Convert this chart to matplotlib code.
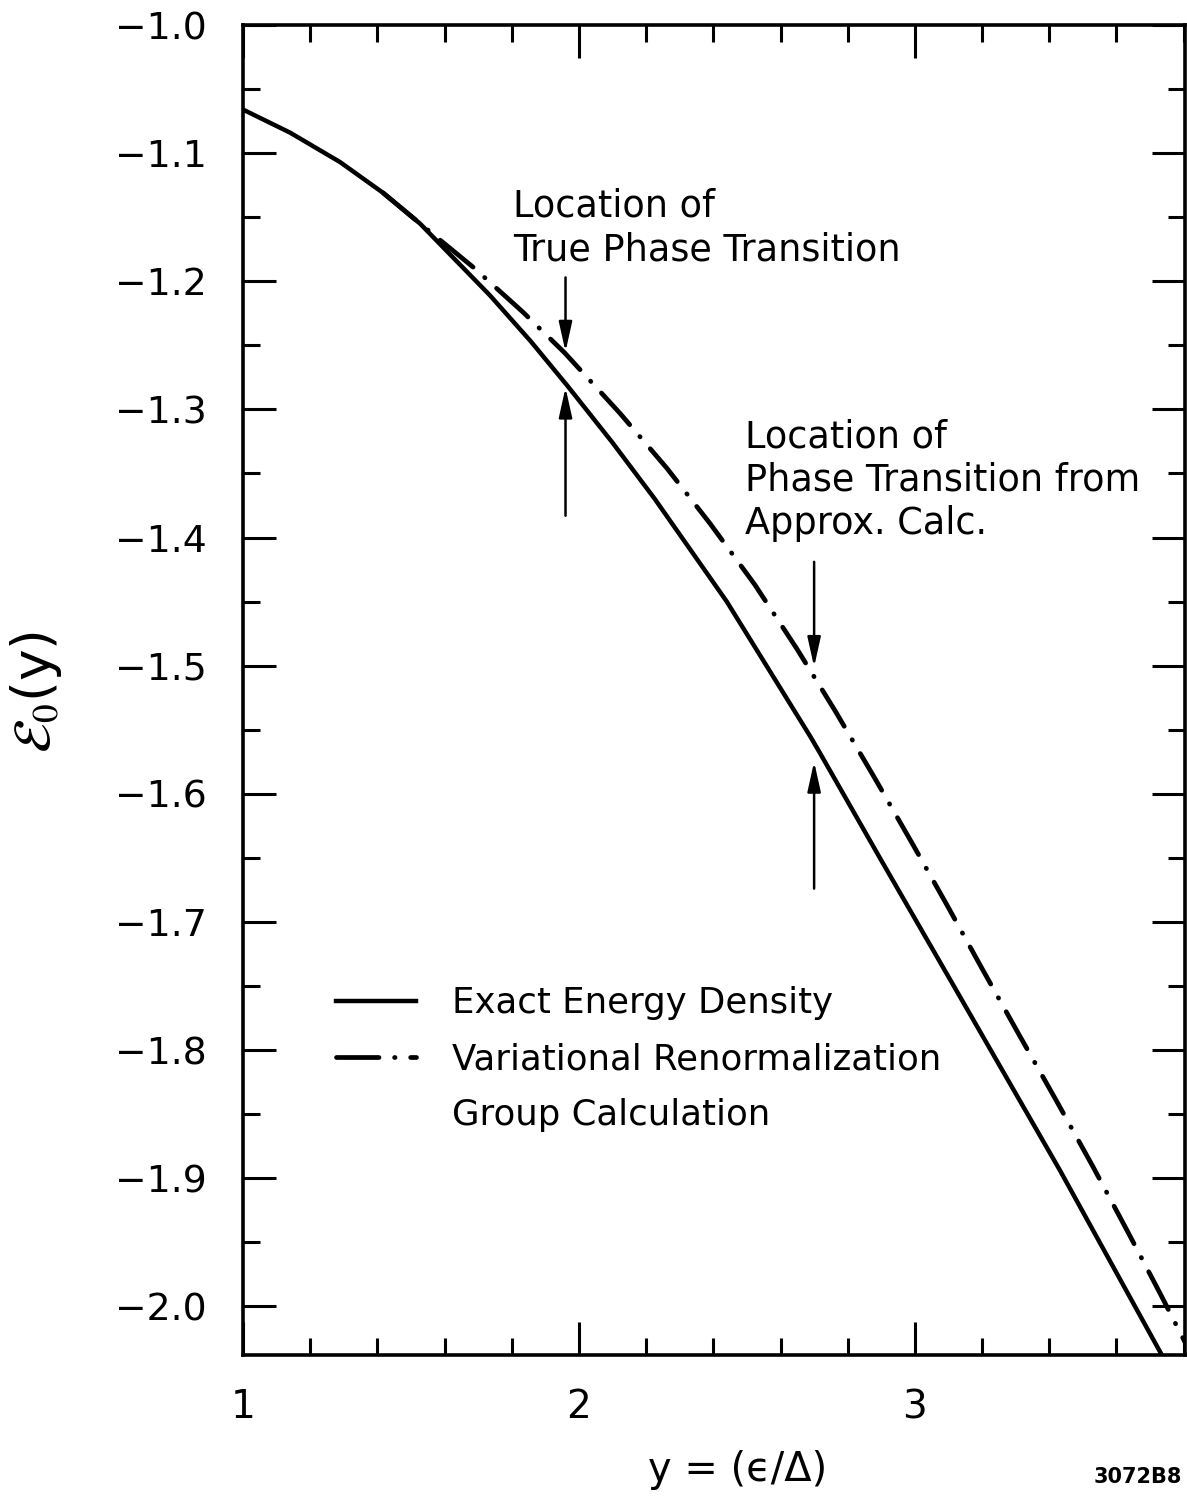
import matplotlib
matplotlib.use("Agg")
import matplotlib.pyplot as plt
from matplotlib import font_manager
from matplotlib.lines import Line2D
from matplotlib.ticker import MultipleLocator, FuncFormatter

# exact energy density
exact_y = [1.000, 1.140, 1.289, 1.417, 1.527, 1.735, 1.857, 1.967, 2.100, 2.226,
           2.440, 2.688, 2.717, 2.900, 3.118, 3.432, 3.735]
exact_e = [-1.066, -1.084, -1.107, -1.131, -1.155, -1.211, -1.247, -1.282, -1.326, -1.370,
           -1.450, -1.555, -1.568, -1.652, -1.751, -1.894, -2.038]

# variational renormalization group curve
vrg_y = [1.417, 1.527, 1.685, 1.833, 1.958, 2.122, 2.262, 2.390, 2.524, 2.649,
         2.762, 2.881, 2.997, 3.098, 3.199, 3.310, 3.420, 3.530, 3.634, 3.732, 3.804]
vrg_e = [-1.131, -1.155, -1.189, -1.224, -1.256, -1.303, -1.346, -1.389, -1.437, -1.487,
         -1.535, -1.588, -1.641, -1.688, -1.736, -1.788, -1.839, -1.891, -1.942, -1.991, -2.028]

# arrows: x position, tail, tip
arrow_x = [1.96, 1.96, 2.70, 2.70]
arrow_tail = [-1.197, -1.383, -1.419, -1.674]
arrow_tip = [-1.255, -1.283, -1.501, -1.575]

notes = ["Location of\nTrue Phase Transition",
         "Location of\nPhase Transition from\nApprox. Calc."]
note_xy = [(1.804, -1.127), (2.494, -1.307)]

legend_labels = ["Exact Energy Density", "Variational Renormalization", "Group Calculation"]

names = {f.name for f in font_manager.fontManager.ttflist}
narrow = "Liberation Sans Narrow" in names
FONT = "Liberation Sans Narrow" if narrow else "DejaVu Sans"
k = 1.0 if narrow else 0.8
plt.rcParams['font.family'] = [FONT, 'DejaVu Sans']
plt.rcParams['mathtext.fontset'] = 'stix'

DASH = (9, 3.3, 0.1, 3.3)

fig = plt.figure(figsize=(11.87, 15.09), dpi=100)
ax = fig.add_axes([243 / 1187, 1 - 1355 / 1509, 942 / 1187, 1330 / 1509])

ax.plot(exact_y, exact_e, color='black', lw=3.2, solid_capstyle='round',
        solid_joinstyle='round')
ax.plot(vrg_y, vrg_e, color='black', lw=3.4, dashes=DASH, dash_capstyle='round')

for x, a, b in zip(arrow_x, arrow_tail, arrow_tip):
    ax.annotate("", xy=(x, b), xytext=(x, a),
                arrowprops=dict(arrowstyle='-|>,head_length=0.9,head_width=0.2',
                                mutation_scale=20, color='black', lw=1.8,
                                shrinkA=0, shrinkB=0))

for s, (x, y) in zip(notes, note_xy):
    ax.text(x, y, s, fontsize=33 * k, ha='left', va='top', linespacing=1.22)

ax.set_xlim(1.0, 3.804)
ax.set_ylim(-2.038, -1.0)
ax.xaxis.set_major_locator(MultipleLocator(1))
ax.xaxis.set_minor_locator(MultipleLocator(0.2))
ax.yaxis.set_major_locator(MultipleLocator(0.1))
ax.yaxis.set_minor_locator(MultipleLocator(0.05))
ax.xaxis.set_major_formatter(FuncFormatter(lambda v, p: f"{v:.0f}"))
ax.yaxis.set_major_formatter(FuncFormatter(lambda v, p: f"\u2212{abs(v):.1f}"))

ax.tick_params(which='both', direction='in', top=True, right=True, width=2.2)
ax.tick_params(which='major', length=24)
ax.tick_params(which='minor', length=12)
ax.tick_params(axis='x', which='major', pad=24, labelsize=35 * k)
ax.tick_params(axis='y', which='major', pad=26, labelsize=34 * k)
for sp in ax.spines.values():
    sp.set_linewidth(2.6)

ax.set_xlabel("y = (\u03f5/\u0394)", fontsize=36 * k, va='center')
ax.xaxis.set_label_coords((738 - 243) / 942, (1355 - 1470) / 1330)
ax.set_ylabel(r"$\mathcal{E}_{0}$(y)", fontsize=48 * k, va='center', ha='center')
ax.yaxis.set_label_coords((36 - 243) / 942, (1355 - 692) / 1330)

handles = [Line2D([], [], color='black', lw=3.2),
           Line2D([], [], color='black', lw=3.4, dashes=DASH, dash_capstyle='round'),
           Line2D([], [], color='none')]
ax.legend(handles, legend_labels, loc='upper left',
          bbox_to_anchor=((336 - 243) / 942, (1355 - 986) / 1330),
          frameon=False, fontsize=32 * k, handlelength=2.25, handletextpad=1.0,
          labelspacing=0.62, borderpad=0, borderaxespad=0)

fig.text(1182 / 1187, 1 - 1477 / 1509, "3072B8", fontsize=15, fontweight='bold',
         family='DejaVu Sans', ha='right', va='center')

fig.savefig("out.png", dpi=100)
